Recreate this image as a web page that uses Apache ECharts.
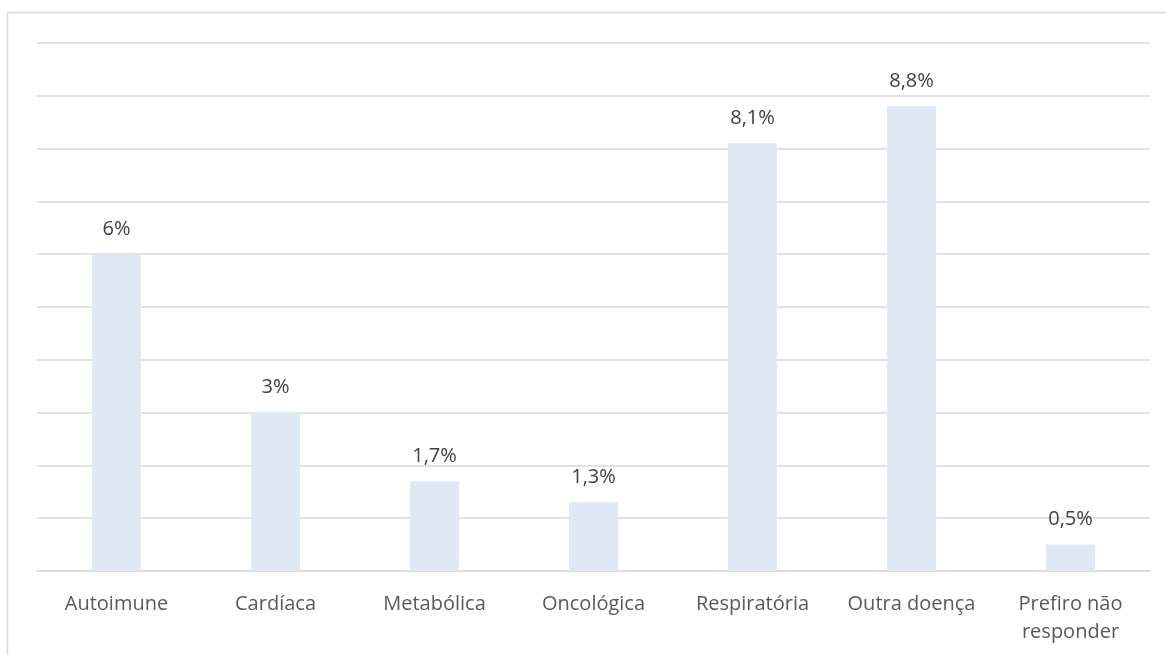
<!DOCTYPE html>
<html>
<head>
<meta charset="utf-8">
<script src="https://cdn.jsdelivr.net/npm/echarts@6/dist/echarts.min.js"></script>
<style>
  html, body { margin: 0; padding: 0; background: #ffffff; }
  #chart { width: 1166px; height: 655px; }
</style>
</head>
<body>
<div id="chart"></div>
<script>
// Doenças referidas pelos inquiridos (% de respostas)
const categories = ['Autoimune', 'Cardíaca', 'Metabólica', 'Oncológica', 'Respiratória', 'Outra doença', 'Prefiro não\nresponder'];
const values = [6, 3, 1.7, 1.3, 8.1, 8.8, 0.5];

const fontFamily = '"Open Sans", "Liberation Sans", sans-serif';
const fmtPct = v => String(v).replace('.', ',') + '%';

const chart = echarts.init(document.getElementById('chart'), null, { renderer: 'canvas' });
chart.setOption({
  backgroundColor: '#ffffff',
  animation: false,
  graphic: [{
    type: 'rect',
    shape: { x: 7.5, y: 12.5, width: 1170, height: 660 },
    style: { fill: 'none', stroke: '#D9D9D9', lineWidth: 1.5 },
    silent: true
  }],
  grid: { left: 37, right: 16, top: 43, bottom: 84, containLabel: false },
  xAxis: {
    type: 'category',
    data: categories,
    axisLine: { show: true, lineStyle: { color: '#D9D9D9', width: 1.5 } },
    axisTick: { show: false },
    axisLabel: {
      color: '#595959',
      fontFamily: fontFamily,
      fontSize: 20,
      lineHeight: 28,
      margin: 19,
      interval: 0
    }
  },
  yAxis: {
    type: 'value',
    min: 0,
    max: 10,
    interval: 1,
    axisLine: { show: false },
    axisTick: { show: false },
    axisLabel: { show: false },
    splitLine: { lineStyle: { color: '#D9D9D9', width: 1.5 } }
  },
  series: [{
    type: 'bar',
    data: values,
    barWidth: 49,
    itemStyle: { color: '#DEE9F5' },
    label: {
      show: true,
      position: 'top',
      distance: 15,
      color: '#404040',
      fontFamily: fontFamily,
      fontSize: 20,
      formatter: p => fmtPct(p.value)
    }
  }]
});
</script>
</body>
</html>
